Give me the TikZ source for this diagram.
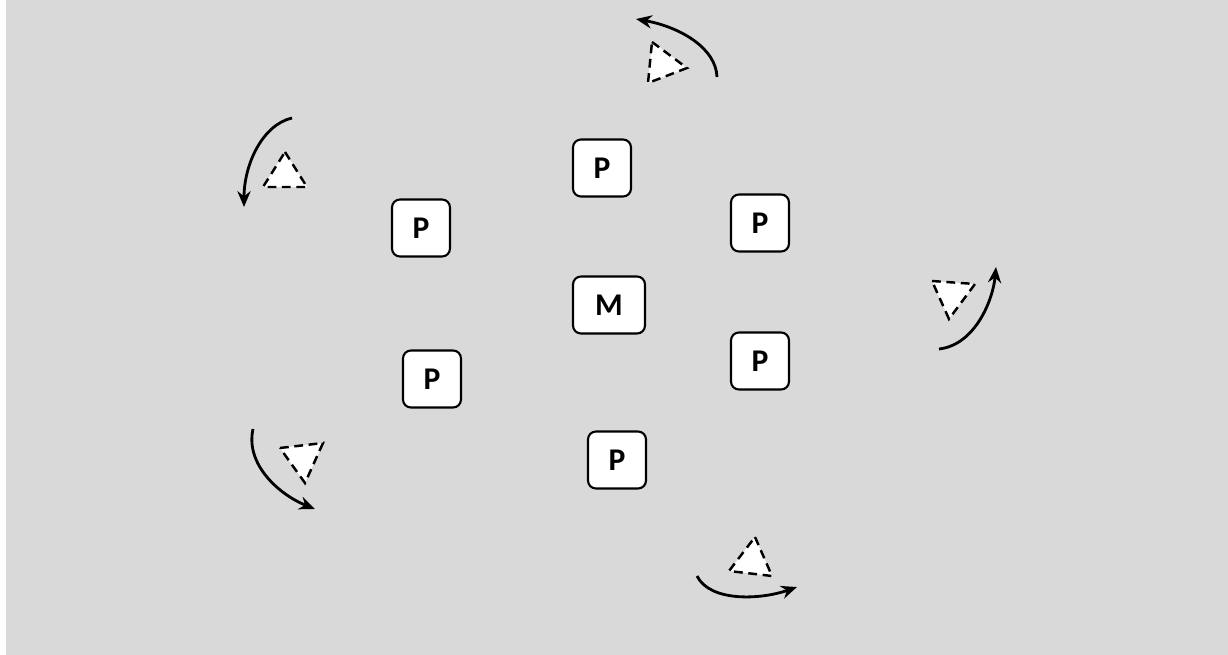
\documentclass[tikz,border=0pt]{standalone}
\usepackage{fontspec}
\setmainfont{Carlito}
\usepackage{xcolor}
\usepackage{tikz}
\usetikzlibrary{arrows.meta}
\definecolor{bggray}{HTML}{D9D9D9}
\tikzset{
    pbox/.style={draw, line width=1.2pt, fill=white, rounded corners=4.5pt, minimum width=1.16cm, minimum height=1.14cm, inner sep=0pt, font=\fontsize{18}{21}\selectfont\bfseries},
    mbox/.style={pbox, minimum width=1.44cm},
    tri/.style={draw, line width=1.4pt, fill=white, dash pattern=on 5pt off 3.2pt},
    rot/.style={-{Stealth[length=9pt, width=7.5pt]}, line width=1.6pt},
    px/.style={x=0.02cm, y=-0.02cm}
}
\begin{document}
\begin{tikzpicture}[px]
        \useasboundingbox (0,0) rectangle (1228,655);
        \fill[bggray] (6,0) rectangle (1228,655);

        \node[mbox] (m) at (609,305) {M};
        \node[pbox] (p1) at (602,168) {P};
        \node[pbox] (p2) at (760,223) {P};
        \node[pbox] (p3) at (760,361) {P};
        \node[pbox] (p4) at (617,460) {P};
        \node[pbox] (p5) at (432,379) {P};
        \node[pbox] (p6) at (421,228) {P};

        \draw[tri] (652,42) -- (687,68) -- (648,83) -- cycle;
        \draw[tri] (285,152) -- (307,187) -- (263,187) -- cycle;
        \draw[tri] (932,281) -- (975,284) -- (949,319) -- cycle;
        \draw[tri] (280,448) -- (323,443) -- (305,483) -- cycle;
        \draw[tri] (755,537) -- (772,576) -- (729,571) -- cycle;

        \draw[rot] (717,77) .. controls (716,48) and (680,27) .. (636,19);
        \draw[rot] (292,118) .. controls (262,125) and (244,165) .. (244,207);
        \draw[rot] (939,349) .. controls (975,345) and (993,300) .. (996,267);
        \draw[rot] (253,429) .. controls (245,465) and (280,495) .. (315,509);
        \draw[rot] (697,576) .. controls (710,602) and (760,600) .. (797,587);
    \end{tikzpicture}
\end{document}
